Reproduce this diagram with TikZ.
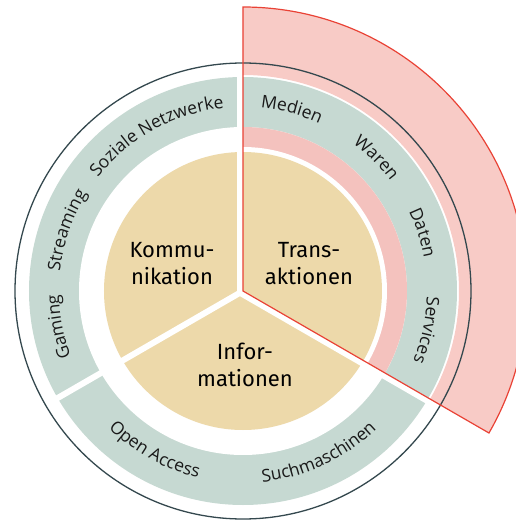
\documentclass[tikz,border=0pt]{standalone}
\usepackage{fontspec}
\usetikzlibrary{decorations.text}
\newfontfamily\kernschrift{Fira Sans}
\newfontfamily\ringschrift{Open Sans}
\newcommand\ringfont{\fontsize{17.5}{20}\selectfont\ringschrift\color{ringtext}}
\definecolor{beige}{RGB}{237,217,170}
\definecolor{gruen}{RGB}{198,217,210}
\definecolor{rosa}{RGB}{248,203,198}
\definecolor{rosainnen}{RGB}{244,194,190}
\definecolor{rot}{RGB}{233,66,53}
\definecolor{dunkel}{RGB}{52,72,78}
\definecolor{ringtext}{RGB}{25,25,25}
\begin{document}
\begin{tikzpicture}[x=1pt,y=1pt,
      kern/.style={align=center,font=\kernschrift\fontsize{22}{26.5}\selectfont,text=black},
      trenner/.style={white,line width=6pt},
      bogen/.style={decorate,decoration={text along path,text align=center,text={|\ringfont|#1}}}]
      \useasboundingbox (-243,-229) rectangle (273,291);
      % aeusserer Sektor Transaktionen
      \fill[rosa] (90:216) arc[start angle=90,end angle=-30,radius=216] -- (-30:284)
            arc[start angle=-30,end angle=90,radius=284] -- cycle;
      % Ringe
      \fill[gruen] (0,0) circle[radius=214];
      \fill[white] (0,0) circle[radius=164];
      \fill[rosainnen] (0,0) -- (90:164) arc[start angle=90,end angle=-30,radius=164] -- cycle;
      \fill[white] (0,0) circle[radius=144];
      \fill[beige] (0,0) circle[radius=139];
      % Trennlinien
      \draw[trenner] (-3,0) -- (-3,216);
      \draw[trenner] (0,0) -- (210:216);
      \draw[trenner] ([shift={(-120:3)}]0,0) -- ([shift={(-120:3)}]-30:216);
      \draw[dunkel,line width=1.3pt] (0,0) circle[radius=228];
      \draw[rot,line width=1.2pt] (0,0) -- (90:284) arc[start angle=90,end angle=-30,radius=284] -- cycle;
      % Kerne
      \node[kern] (kommunikation) at (-71,27.5) {Kommu-\\nikation};
      \node[kern] (transaktionen) at (66,27.5) {Trans-\\aktionen};
      \node[kern] (informationen) at (2,-74) {Infor-\\mationen};
      % Ringbeschriftung
      \path[bogen={Gaming}] (231:184) arc[start angle=231,end angle=151,radius=184];
      \path[bogen={Streaming}] (201:184) arc[start angle=201,end angle=121,radius=184];
      \path[bogen={Soziale Netzwerke}] (169:184) arc[start angle=169,end angle=69,radius=184];
      \path[bogen={Medien}] (115:184) arc[start angle=115,end angle=35,radius=184];
      \path[bogen={Waren}] (85:184) arc[start angle=85,end angle=5,radius=184];
      \path[bogen={Daten}] (58:184) arc[start angle=58,end angle=-22,radius=184];
      \path[bogen={Services}] (28:184) arc[start angle=28,end angle=-52,radius=184];
      \path[bogen={Open Access}] (-169:192) arc[start angle=-169,end angle=-69,radius=192];
      \path[bogen={Suchmaschinen}] (-115:192) arc[start angle=-115,end angle=-15,radius=192];
    \end{tikzpicture}
\end{document}
